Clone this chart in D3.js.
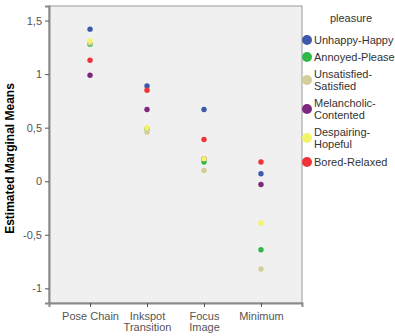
<!DOCTYPE html>
<html>
<head>
<meta charset="utf-8">
<script src="https://cdn.jsdelivr.net/npm/d3@7"></script>
<style>
  body { margin: 0; background: #fff; }
  text { font-family: "Liberation Sans", Arial, sans-serif; }
</style>
</head>
<body>
<div id="chart"></div>
<script>
// categorias del eje x
const categories = ["Pose Chain", "Inkspot\nTransition", "Focus\nImage", "Minimum"];
const seriesNames = ["Unhappy-Happy", "Annoyed-Pleased", "Unsatisfied-\nSatisfied", "Melancholic-\nContented", "Despairing-\nHopeful", "Bored-Relaxed"];
const seriesColors = ["#3e58ac", "#2eb848", "#d3ce97", "#7c287d", "#f5f36a", "#ef3338"];

// medias estimadas por serie
const unhappyHappy = [1.42, 0.89, 0.67, 0.07];
const annoyedPleased = [1.28, 0.49, 0.18, -0.64];
const unsatisfiedSatisfied = [1.29, 0.46, 0.10, -0.82];
const melancholicContented = [0.99, 0.67, 0.21, -0.03];
const despairingHopeful = [1.31, 0.50, 0.21, -0.39];
const boredRelaxed = [1.13, 0.85, 0.39, 0.18];
const yTicks = [-1, -0.5, 0, 0.5, 1, 1.5];

const seriesValues = [unhappyHappy, annoyedPleased, unsatisfiedSatisfied, melancholicContented, despairingHopeful, boredRelaxed];

const W = 395, H = 336;
const plot = { left: 49, top: 6, right: 302, bottom: 303 };

const svg = d3.select("#chart").append("svg")
    .attr("width", W)
    .attr("height", H);

// Escalas
const x = d3.scalePoint()
    .domain(categories)
    .range([plot.left, plot.right])
    .padding(0.72);

const y = d3.scaleLinear()
    .domain([-1.137, 1.636])
    .range([plot.bottom, plot.top]);

// Fondo del area de trazado
svg.append("rect")
    .attr("x", plot.left)
    .attr("y", plot.top)
    .attr("width", plot.right - plot.left)
    .attr("height", plot.bottom - plot.top)
    .attr("fill", "#f0f0f0")
    .attr("stroke", "#9a9a9a")
    .attr("stroke-width", 1);

// Ejes
const yAxis = svg.append("g")
    .attr("transform", `translate(${plot.left},0)`)
    .call(d3.axisLeft(y).tickValues(yTicks).tickSize(4)
        .tickFormat(d => String(d).replace(".", ",")));
yAxis.select(".domain").attr("stroke", "#8a8a8a").attr("stroke-width", 2);
yAxis.selectAll(".tick line").attr("stroke", "#555");
yAxis.selectAll(".tick text")
    .attr("fill", "#555")
    .style("font-size", "11px");

const xAxis = svg.append("g")
    .attr("transform", `translate(0,${plot.bottom})`)
    .call(d3.axisBottom(x).tickSize(4));
xAxis.select(".domain").attr("stroke", "#8a8a8a").attr("stroke-width", 2);
xAxis.selectAll(".tick line").attr("stroke", "#555");
xAxis.selectAll(".tick text").remove();
xAxis.selectAll(".tick").each(function(d) {
    const t = d3.select(this).append("text")
        .attr("fill", "#555")
        .attr("text-anchor", "middle")
        .style("font-size", "11px")
        .attr("y", 17);
    d.split("\n").forEach((line, i) => {
        t.append("tspan").attr("x", 0).attr("dy", i === 0 ? 0 : 11).text(line);
    });
});

// Titulo del eje y
svg.append("text")
    .attr("transform", `translate(14,${(plot.top + plot.bottom) / 2 + 4}) rotate(-90)`)
    .attr("text-anchor", "middle")
    .style("font-size", "12px")
    .style("font-weight", "bold")
    .attr("fill", "#000")
    .text("Estimated Marginal Means");

// Puntos
seriesValues.forEach((vals, s) => {
    svg.append("g").selectAll("circle")
        .data(vals)
        .enter().append("circle")
        .attr("cx", (d, i) => x(categories[i]))
        .attr("cy", d => y(d))
        .attr("r", 2.7)
        .attr("fill", seriesColors[s]);
});

// Leyenda
const legend = svg.append("g");
legend.append("text")
    .attr("x", 351)
    .attr("y", 22)
    .attr("text-anchor", "middle")
    .style("font-size", "11px")
    .attr("fill", "#333")
    .text("pleasure");

const legendY = [40, 57, 80, 109, 138, 162];
seriesNames.forEach((name, i) => {
    legend.append("circle")
        .attr("cx", 307)
        .attr("cy", legendY[i])
        .attr("r", 5)
        .attr("fill", seriesColors[i]);
    const lines = name.split("\n");
    const t = legend.append("text")
        .attr("x", 314)
        .attr("y", legendY[i] + 4 - (lines.length - 1) * 6)
        .style("font-size", "11px")
        .attr("fill", "#333");
    lines.forEach((line, k) => {
        t.append("tspan").attr("x", 314).attr("dy", k === 0 ? 0 : 12).text(line);
    });
});
</script>
</body>
</html>
